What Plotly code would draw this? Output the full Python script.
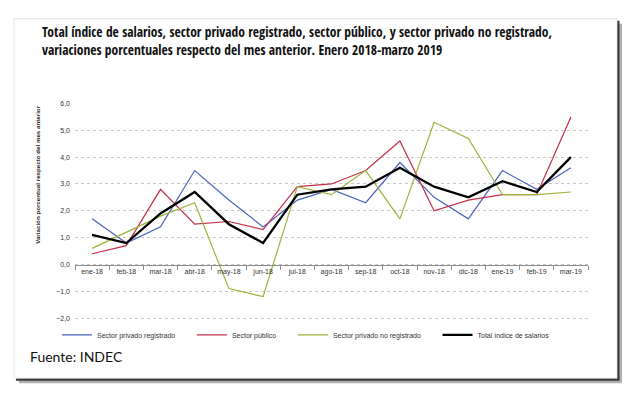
import plotly.graph_objects as go

months = ["ene-18", "feb-18", "mar-18", "abr-18", "may-18", "jun-18", "jul-18", "ago-18",
          "sep-18", "oct-18", "nov-18", "dic-18", "ene-19", "feb-19", "mar-19"]

privado_registrado = [1.7, 0.8, 1.4, 3.5, 2.4, 1.4, 2.4, 2.8, 2.3, 3.8, 2.5, 1.7, 3.5, 2.8, 3.6]
sector_publico = [0.4, 0.7, 2.8, 1.5, 1.6, 1.3, 2.9, 3.0, 3.5, 4.6, 2.0, 2.4, 2.6, 2.6, 5.5]
privado_no_registrado = [0.6, 1.2, 1.8, 2.3, -0.9, -1.2, 2.9, 2.6, 3.5, 1.7, 5.3, 4.7, 2.6, 2.6, 2.7]
total_indice = [1.1, 0.8, 1.9, 2.7, 1.5, 0.8, 2.6, 2.8, 2.9, 3.6, 2.9, 2.5, 3.1, 2.7, 4.0]

series = [
    ("Sector privado registrado", privado_registrado, "#4a63c0", 1.2),
    ("Sector público", sector_publico, "#c22f48", 1.2),
    ("Sector privado no registrado", privado_no_registrado, "#9cb33a", 1.2),
    ("Total índice de salarios", total_indice, "#000000", 2.3),
]

W, H = 630, 395
def px(x):
    return x / W
def py(y):
    return 1 - y / H

fig = go.Figure()
for name, vals, color, width in series:
    fig.add_trace(go.Scatter(x=months, y=vals, name=name + "\u00a0" * 6, mode="lines",
                             line=dict(color=color, width=width)))

base_font = "Liberation Sans, Arial, sans-serif"

fig.update_layout(
    width=W, height=H,
    margin=dict(l=0, r=0, t=0, b=0),
    paper_bgcolor="white",
    plot_bgcolor="rgba(0,0,0,0)",
    separators=",.",
    font=dict(family=base_font, size=7, color="#333333"),
    xaxis=dict(
        type="category", categoryorder="array", categoryarray=months,
        range=[-0.5, len(months) - 0.5],
        domain=[px(75), px(588)],
        anchor="free", position=py(265),
        showline=True, linecolor="#8c8c8c", linewidth=1,
        ticks="outside", tickson="boundaries", ticklen=4, tickcolor="#8c8c8c",
        showgrid=False, tickfont=dict(size=7, color="#333333"),
    ),
    yaxis=dict(
        range=[-2.06, 6], dtick=1, tickformat=".1f",
        domain=[py(320.6), py(101)],
        showline=False, zeroline=False,
        showgrid=True, gridcolor="#c8c8c8", gridwidth=1, griddash="dot",
        tickfont=dict(size=7, color="#333333"), ticklabelstandoff=4,
    ),
    legend=dict(
        orientation="h", x=px(57), xanchor="left", y=py(336), yanchor="middle",
        font=dict(size=7, color="#333333"), bgcolor="rgba(0,0,0,0)",
        itemwidth=30, tracegroupgap=0,
    ),
    showlegend=True,
)

# frame with drop shadow
fig.add_shape(type="rect", xref="paper", yref="paper", layer="below",
              x0=px(19), x1=px(622), y0=py(385), y1=py(20),
              fillcolor="#b0b0b0", line=dict(width=0))
fig.add_shape(type="rect", xref="paper", yref="paper", layer="below",
              x0=px(16), x1=px(619.5), y0=py(382.5), y1=py(17),
              fillcolor="#3a3a3a", line=dict(width=0))
fig.add_shape(type="rect", xref="paper", yref="paper", layer="below",
              x0=px(14), x1=px(617), y0=py(380), y1=py(15),
              fillcolor="white", line=dict(color="#e0e0e0", width=0.8))

fig.add_annotation(
    text="Total índice de salarios, sector privado registrado, sector público, y sector privado no registrado,<br>"
         "variaciones porcentuales respecto del mes anterior. Enero 2018-marzo 2019",
    xref="paper", yref="paper", x=px(40), y=py(17), xanchor="left", yanchor="top",
    align="left", showarrow=False,
    font=dict(family="Open Sans Condensed, Noto Sans Condensed, Liberation Sans, sans-serif",
              size=13.5, color="#111111", weight="bold"),
)

fig.add_annotation(
    text="<b>Variación porcentual respecto del mes anterior</b>",
    xref="paper", yref="paper", x=px(32), y=py(174), textangle=-90,
    showarrow=False, font=dict(size=6.2, color="#222222"),
)

fig.add_annotation(
    text="Fuente: INDEC", xref="paper", yref="paper",
    x=px(28), y=py(358), xanchor="left", yanchor="middle", showarrow=False,
    font=dict(family="Lato, Open Sans, sans-serif", size=14, color="#111111"),
)

fig.write_html("out.html", config={"displayModeBar": False},
               post_script="document.body.style.margin='0';")
